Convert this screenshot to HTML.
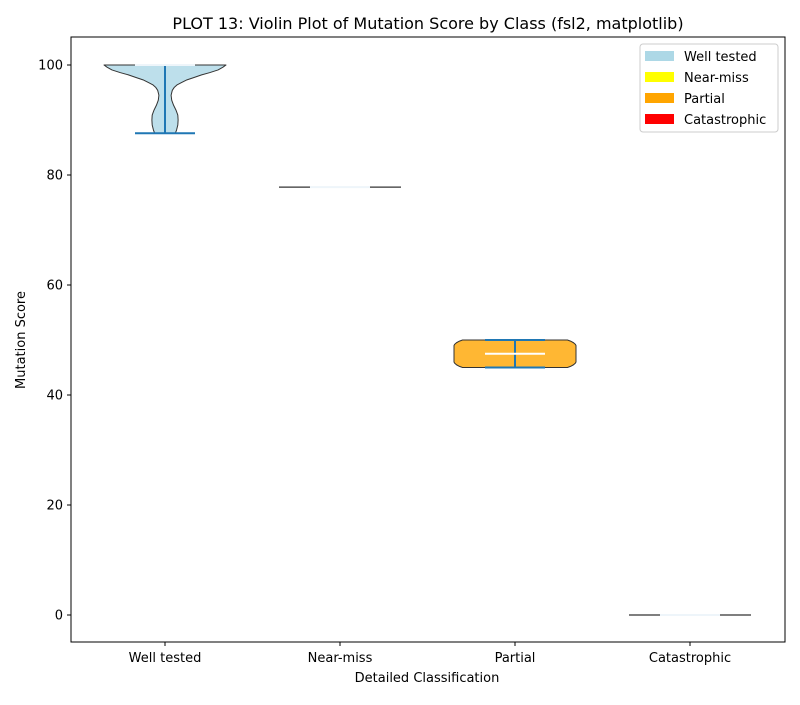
<!DOCTYPE html>
<html><head><meta charset="utf-8"><style>
body{margin:0;background:#fff;font-family:"Liberation Sans","DejaVu Sans",sans-serif}
svg text{font-family:"DejaVu Sans","Liberation Sans",sans-serif;fill:#000}
</style></head><body>
<svg width="800" height="700" viewBox="0 0 800 700" xmlns="http://www.w3.org/2000/svg">
<rect width="800" height="700" fill="#fff"/>
<text x="428" y="29" font-size="16" text-anchor="middle">PLOT 13: Violin Plot of Mutation Score by Class (fsl2, matplotlib)</text>
<g id="plot"></g>
<rect x="71" y="37" width="714" height="605" fill="none" stroke="#000" stroke-width="1"/>
<g id="axes"></g>
<text x="427" y="682" font-size="13" text-anchor="middle">Detailed Classification</text>
<text x="25" y="340" font-size="13" text-anchor="middle" transform="rotate(-90 25 340)">Mutation Score</text>
<g>
<rect x="640" y="44" width="138" height="88" fill="#fff" stroke="#ccc" rx="3"/>
<g><rect x="645" y="51" width="29" height="10" fill="#ADD8E6"/><text x="684" y="61" font-size="13">Well tested</text></g>
<g><rect x="645" y="72" width="29" height="10" fill="#FFFF00"/><text x="684" y="82" font-size="13">Near-miss</text></g>
<g><rect x="645" y="93" width="29" height="10" fill="#FFA500"/><text x="684" y="103" font-size="13">Partial</text></g>
<g><rect x="645" y="114" width="29" height="10" fill="#FF0000"/><text x="684" y="124" font-size="13">Catastrophic</text></g>
</g>
</svg>
<script>
const categories = ["Well tested","Near-miss","Partial","Catastrophic"];
const fills = ["#BDDFEB","#FFFF66","#FFB733","#FF3333"];
const medians = [100, 77.8, 47.5, 0];
const mins = [87.6, 77.8, 45, 0];
const maxs = [100, 77.8, 50, 0];
const prof1Scores = [100,99.6,99.1,98.6,98.2,97.7,97.3,96.8,96.4,95.9,95.4,94.5,93.6,92.7,91.8,90.9,90.0,89.1,88.2,87.6];
const prof1Widths = [1,0.95,0.87,0.73,0.6,0.47,0.36,0.27,0.2,0.15,0.12,0.1,0.11,0.14,0.18,0.21,0.215,0.21,0.19,0.17];
const prof3Scores = [50,49.8,49.5,49.2,49,48,47,46,45.8,45.5,45.2,45];
const prof3Widths = [0.86,0.91,0.96,0.99,1,1,1,1,0.99,0.96,0.91,0.86];
const yTicks = [0,20,40,60,80,100];
const NS="http://www.w3.org/2000/svg";
const X0=71,X1=785,Y0=642,Y1=37;
const xs=i=>165+175*i;
const ys=v=>Y0-(v-(-5))/(110)*(Y0-Y1)+0.5;
const HW=61;
function mk(tag,attrs,parent){const e=document.createElementNS(NS,tag);for(const k in attrs)e.setAttribute(k,attrs[k]);parent.appendChild(e);return e;}
const plot=document.getElementById('plot'), axes=document.getElementById('axes');
const profiles={0:[prof1Scores,prof1Widths],2:[prof3Scores,prof3Widths]};
categories.forEach((c,i)=>{
  const cx=xs(i);
  const g=mk('g',{},plot);
  
  
  if(profiles[i]){
    const [s,w]=profiles[i];
    let pts=s.map((v,k)=>(cx-HW*w[k])+','+ys(v));
    pts=pts.concat(s.slice().reverse().map((v,k)=>(cx+HW*w[s.length-1-k])+','+ys(v)));
    const p=mk('polygon',{points:pts.join(' '),fill:fills[i],stroke:'#333','stroke-width':1,'stroke-linejoin':'round'},g);
    
    
    const vl=mk('line',{x1:cx,x2:cx,y1:ys(maxs[i]),y2:ys(mins[i]),stroke:'#1f77b4','stroke-width':2},g);
    
    
    [mins[i],maxs[i]].forEach(v=>{
      const b=mk('line',{x1:cx-30,x2:cx+30,y1:ys(v),y2:ys(v),stroke:'#1f77b4','stroke-width':2},g);
      
      
    });
  } else {
    const l=mk('line',{x1:cx-HW,x2:cx+HW,y1:ys(medians[i]),y2:ys(medians[i]),stroke:'#333','stroke-width':1.3},g);
    
    
  }
  const m=mk('line',{x1:cx-30,x2:cx+30,y1:ys(medians[i]),y2:ys(medians[i]),stroke:i===2?'#fff':'#eef5fa','stroke-width':2},g);
  
  
  const t=mk('line',{x1:cx,x2:cx,y1:Y0,y2:Y0+4,stroke:'#000'},axes);
  
  
  const tx=mk('text',{x:cx,y:Y0+20,'font-size':13,'text-anchor':'middle'},axes);
  tx.textContent=c;
  
  
});
yTicks.forEach(v=>{
  const y=ys(v);
  const t=mk('line',{x1:X0-4,x2:X0,y1:y,y2:y,stroke:'#000'},axes);
  
  
  const tx=mk('text',{x:X0-8,y:y+4.5,'font-size':13,'text-anchor':'end'},axes);
  tx.textContent=v;
  
  
});
</script>
</body></html>
